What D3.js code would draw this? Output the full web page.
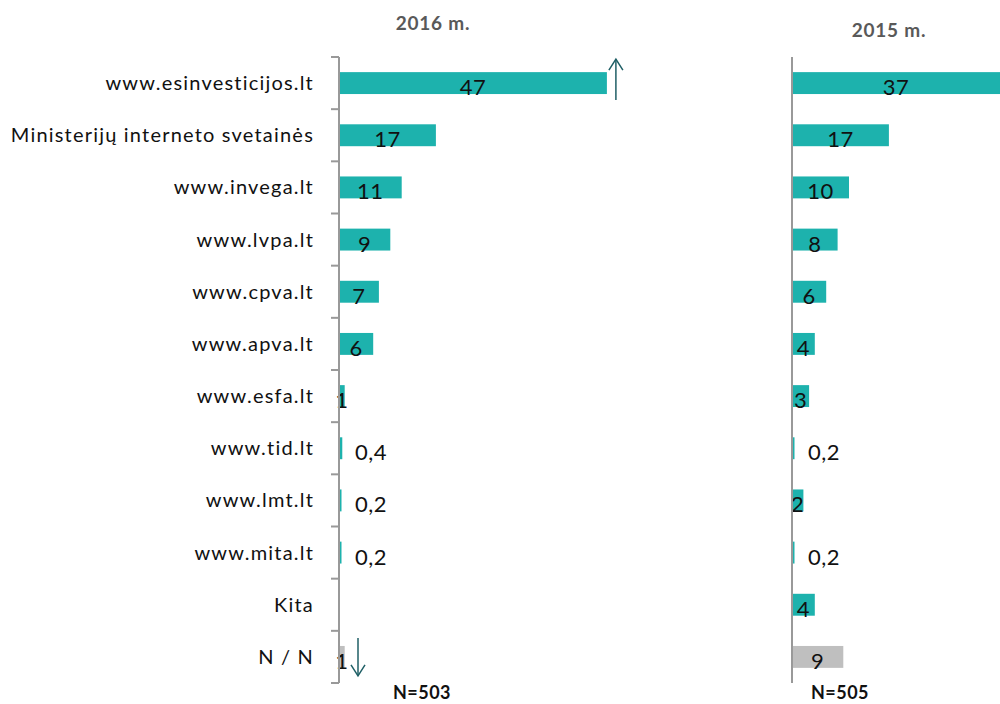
<!DOCTYPE html>
<html lang="en">
<head>
    <meta charset="UTF-8">
    <title>Svetainės</title>
    <style>
        body { margin: 0; background: #fff; }
        svg { display: block; font-family: Lato, "Open Sans", sans-serif; }
    </style>
</head>
<body>
<div id="chart"></div>
<script src="https://cdn.jsdelivr.net/npm/d3@7"></script>
<script>
    const categories = ['www.esinvesticijos.lt', 'Ministerijų interneto svetainės', 'www.invega.lt', 'www.lvpa.lt',
        'www.cpva.lt', 'www.apva.lt', 'www.esfa.lt', 'www.tid.lt', 'www.lmt.lt', 'www.mita.lt', 'Kita', 'N / N']
    const values2016 = [47, 17, 11, 9, 7, 6, 1, 0.4, 0.2, 0.2, null, 1]
    const values2015 = [37, 17, 10, 8, 6, 4, 3, 0.2, 2, 0.2, 4, 9]
    const years = ['2016 m.', '2015 m.']
    const sampleSizes = ['N=503', 'N=505']

    const width = 1000, height = 704
    const teal = '#1db2ad', grey = '#bfbfbf', arrowColor = '#1f5f66'

    const svg = d3.select('#chart').append('svg')
        .attr('width', width)
        .attr('height', height)

    const y = d3.scaleBand()
        .domain(categories)
        .range([57, 683])
        .paddingInner(0.58)
        .paddingOuter(0.29)

    // same scale for both panels
    const x = d3.scaleLinear().domain([0, 50]).range([0, 285])

    const fmt = v => String(v).replace('.', ',')

    const panels = [
        {x0: 339, data: values2016, title: years[0], titleX: 433, titleY: 30, n: sampleSizes[0], nX: 422, ticks: true},
        {x0: 792, data: values2015, title: years[1], titleX: 889, titleY: 37, n: sampleSizes[1], nX: 840, ticks: false}
    ]

    // category labels
    svg.append('g')
        .selectAll('text')
        .data(categories)
        .enter()
        .append('text')
        .attr('x', 314)
        .attr('y', d => y(d) + y.bandwidth() / 2 + 7)
        .attr('text-anchor', 'end')
        .style('font-size', '20px')
        .style('letter-spacing', '1.2px')
        .style('fill', '#111')
        .text(d => d)

    panels.forEach(p => {
        const g = svg.append('g')

        const rows = categories.map((c, i) => ({c, v: p.data[i], i}))
            .filter(d => d.v != null)

        g.selectAll('rect')
            .data(rows)
            .enter()
            .append('rect')
            .attr('x', d => d.v < 1 ? p.x0 + 1 : p.x0)
            .attr('y', d => y(d.c))
            .attr('width', d => Math.max(x(d.v), 1.5))
            .attr('height', y.bandwidth())
            .style('fill', d => d.c === 'N / N' ? grey : teal)

        g.selectAll('text.val')
            .data(rows)
            .enter()
            .append('text')
            .attr('class', 'val')
            .attr('x', d => {
                if (d.v < 1) return p.x0 + 16
                const w = Math.min(x(d.v), width - p.x0)
                return p.x0 + w / 2
            })
            .attr('y', d => y(d.c) + y.bandwidth() / 2 + 12)
            .attr('text-anchor', d => d.v < 1 ? 'start' : 'middle')
            .style('font-size', '22px')
            .style('letter-spacing', '0.5px')
            .style('fill', '#111')
            .text(d => fmt(d.v))

        // axis line
        const ag = g.append('g')
            .attr('transform', `translate(${p.x0},0)`)
            .call(d3.axisLeft(y).tickSize(0).tickFormat(''))
        ag.select('.domain').attr('d', 'M0,57V683').style('stroke', '#999').style('stroke-width', 2)
        ag.selectAll('.tick').remove()
        if (p.ticks) {
            ag.selectAll('line.t')
                .data(d3.range(categories.length + 1))
                .enter()
                .append('line')
                .attr('class', 't')
                .attr('x1', -8).attr('x2', 0)
                .attr('y1', i => 57 + i * (626 / categories.length))
                .attr('y2', i => 57 + i * (626 / categories.length))
                .style('stroke', '#999')
                .style('stroke-width', 2)
        }

        g.append('text')
            .attr('x', p.titleX)
            .attr('y', p.titleY)
            .attr('text-anchor', 'middle')
            .style('font-size', '19px')
            .style('font-weight', 'bold')
            .style('letter-spacing', '0.8px')
            .style('fill', '#595959')
            .text(p.title)

        g.append('text')
            .attr('x', p.nX)
            .attr('y', 699)
            .attr('text-anchor', 'middle')
            .style('font-size', '18px')
            .style('font-weight', 'bold')
            .style('letter-spacing', '0.5px')
            .style('fill', '#111')
            .text(p.n)
    })

    // change arrows (2016 vs 2015)
    function arrow(cx, y1, y2) {
        const dir = y2 < y1 ? 1 : -1
        const a = svg.append('g').style('stroke', arrowColor).style('stroke-width', 1.5).style('fill', 'none')
        a.append('line').attr('x1', cx).attr('x2', cx).attr('y1', y1).attr('y2', y2)
        a.append('polyline')
            .attr('points', `${cx - 7},${y2 + dir * 11} ${cx},${y2} ${cx + 7},${y2 + dir * 11}`)
    }
    const up = 0, down = categories.length - 1
    arrow(x(values2016[up]) + 339 + 9, y(categories[up]) + y.bandwidth() + 6, y(categories[up]) - 13)
    arrow(358, y(categories[down]) - 8, y(categories[down]) + y.bandwidth() + 8)
</script>
</body>
</html>
